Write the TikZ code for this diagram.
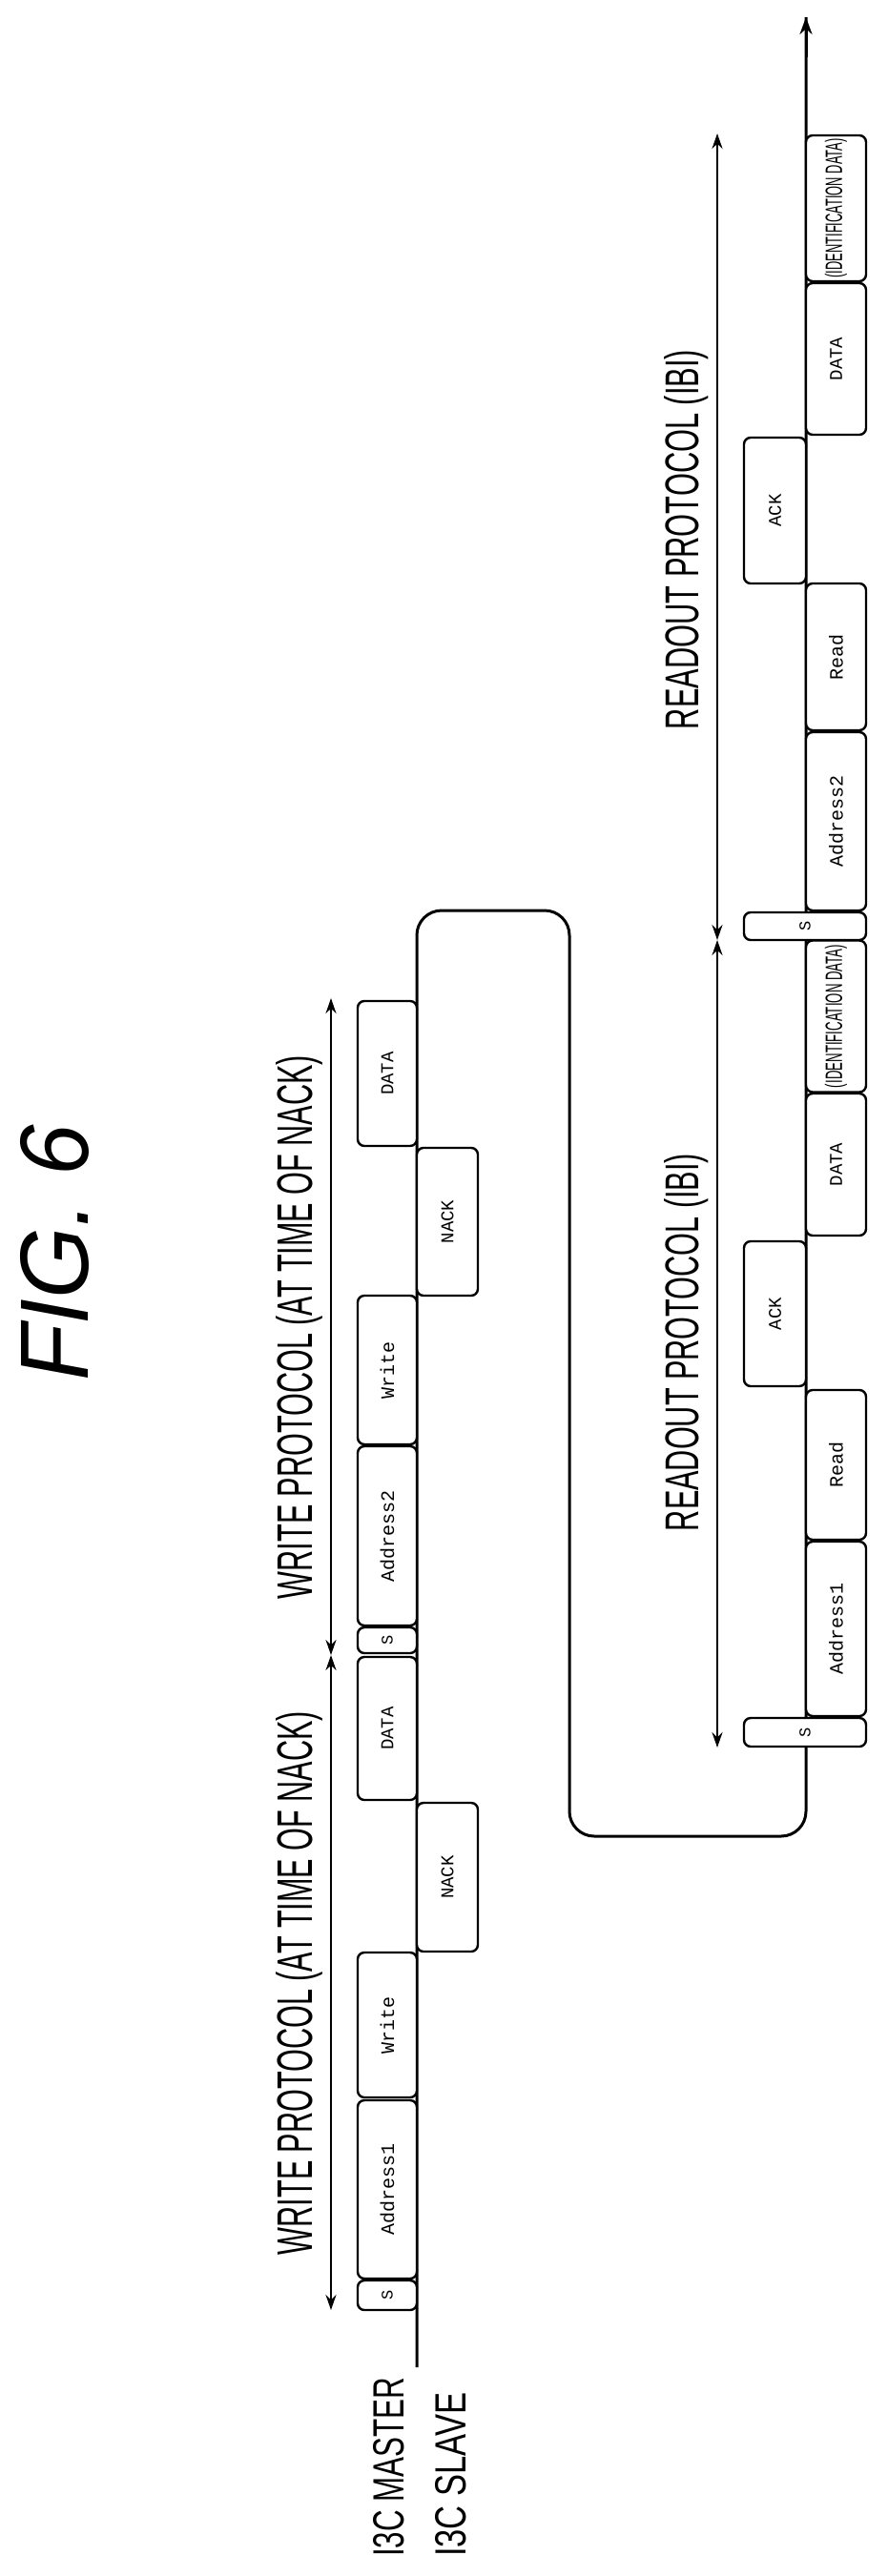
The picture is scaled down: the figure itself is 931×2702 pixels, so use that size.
\documentclass[tikz,border=0pt]{standalone}
\usepackage{fontspec}
\usepackage{graphicx}
\setmainfont{Liberation Sans}
\newfontfamily\boxfont{Liberation Mono}
\usetikzlibrary{arrows.meta}
\newcommand{\fitbox}[3]{\resizebox{#1pt}{#2pt}{#3}}
\begin{document}
\begin{tikzpicture}[x=1pt,y=-1pt,
  pk/.style={draw,line width=2.4pt,rounded corners=7pt,inner sep=0pt,fill=white},
  lbl/.style={inner sep=0pt},
  bus/.style={line width=3pt},
  dim/.style={line width=2.2pt,{Stealth[length=16pt,width=11pt]}-{Stealth[length=16pt,width=11pt]}},
  btxt/.style={font=\boxfont\fontsize{17}{17}\selectfont}]
\useasboundingbox (0,0) rectangle (931,2702);
% title
\node[lbl] (fig) at (57,1314) {\rotatebox{90}{\fitbox{268}{71}{\itshape FIG. 6}}};
% main bus with loop
\coordinate (b0) at (437,2483);
\coordinate (b1) at (437,955);
\coordinate (b2) at (597,955);
\coordinate (b3) at (597,1926);
\coordinate (b4) at (845,1926);
\coordinate (b5) at (845,18);
\draw[bus,rounded corners=26pt] (b0) -- (b1) -- (b2) -- (b3) -- (b4) -- (b5);
\draw[bus,-{Stealth[length=18pt,width=13pt]}] (845,60) -- (b5);
% write protocol 1
\node[pk,minimum width=62pt,minimum height=31pt] (ws1) at (406,2407.5) {\rotatebox{90}{\boxfont\fontsize{17}{17}\selectfont S}};
\node[pk,minimum width=62pt,minimum height=187pt] (wa1) at (406,2296.5) {\rotatebox{90}{\boxfont\fontsize{20}{20}\selectfont Address1}};
\node[pk,minimum width=62pt,minimum height=152pt] (ww1) at (406,2124) {\rotatebox{90}{\boxfont\fontsize{20}{20}\selectfont Write}};
\node[pk,minimum width=64pt,minimum height=156pt] (wn1) at (469,1969) {\rotatebox{90}{\boxfont\fontsize{19}{19}\selectfont NACK}};
\node[pk,minimum width=62pt,minimum height=150pt] (wd1) at (406,1813) {\rotatebox{90}{\boxfont\fontsize{19}{19}\selectfont DATA}};
% write protocol 2
\node[pk,minimum width=62pt,minimum height=27pt] (ws2) at (406,1720.5) {\rotatebox{90}{\boxfont\fontsize{17}{17}\selectfont S}};
\node[pk,minimum width=62pt,minimum height=188pt] (wa2) at (406,1611) {\rotatebox{90}{\boxfont\fontsize{20}{20}\selectfont Address2}};
\node[pk,minimum width=62pt,minimum height=156pt] (ww2) at (406,1437) {\rotatebox{90}{\boxfont\fontsize{20}{20}\selectfont Write}};
\node[pk,minimum width=64pt,minimum height=155pt] (wn2) at (469,1281.5) {\rotatebox{90}{\boxfont\fontsize{19}{19}\selectfont NACK}};
\node[pk,minimum width=62pt,minimum height=152pt] (wd2) at (406,1126) {\rotatebox{90}{\boxfont\fontsize{19}{19}\selectfont DATA}};
% readout 1
\node[pk,minimum width=128pt,minimum height=30pt] (rs1) at (844,1817) {\rotatebox{90}{\boxfont\fontsize{17}{17}\selectfont S}};
\node[pk,minimum width=63pt,minimum height=183pt] (ra1) at (876.5,1708.5) {\rotatebox{90}{\boxfont\fontsize{20}{20}\selectfont Address1}};
\node[pk,minimum width=63pt,minimum height=157pt] (rr1) at (876.5,1536.5) {\rotatebox{90}{\boxfont\fontsize{20}{20}\selectfont Read}};
\node[pk,minimum width=65pt,minimum height=152pt] (rk1) at (812.5,1378) {\rotatebox{90}{\boxfont\fontsize{19}{19}\selectfont ACK}};
\node[pk,minimum width=63pt,minimum height=149pt] (rd1) at (876.5,1221.5) {\rotatebox{90}{\boxfont\fontsize{19}{19}\selectfont DATA}};
\node[pk,minimum width=63pt,minimum height=159pt] (ri1) at (876.5,1066) {\rotatebox{90}{\fitbox{150}{18}{(IDENTIFICATION DATA)}}};
% readout 2
\node[pk,minimum width=128pt,minimum height=29pt] (rs2) at (844,971.5) {\rotatebox{90}{\boxfont\fontsize{17}{17}\selectfont S}};
\node[pk,minimum width=63pt,minimum height=187pt] (ra2) at (876.5,861.5) {\rotatebox{90}{\boxfont\fontsize{20}{20}\selectfont Address2}};
\node[pk,minimum width=63pt,minimum height=154pt] (rr2) at (876.5,689) {\rotatebox{90}{\boxfont\fontsize{20}{20}\selectfont Read}};
\node[pk,minimum width=65pt,minimum height=153pt] (rk2) at (812.5,535.5) {\rotatebox{90}{\boxfont\fontsize{19}{19}\selectfont ACK}};
\node[pk,minimum width=63pt,minimum height=159pt] (rd2) at (876.5,376.5) {\rotatebox{90}{\boxfont\fontsize{19}{19}\selectfont DATA}};
\node[pk,minimum width=63pt,minimum height=153pt] (ri2) at (876.5,218.5) {\rotatebox{90}{\fitbox{146}{18}{(IDENTIFICATION DATA)}}};
% dimension arrows
\coordinate (wl0) at (347,2423);
\coordinate (wl1) at (347,1736);
\coordinate (wl2) at (347,1047);
\coordinate (rl0) at (752,1833);
\coordinate (rl1) at (752,986);
\coordinate (rl2) at (752,140);
\draw[dim] (wl0) -- (wl1);
\draw[dim] (wl1) -- (wl2);
\draw[dim] (rl0) -- (rl1);
\draw[dim] (rl1) -- (rl2);
% labels
\node[lbl] (tw1) at (314,2080) {\rotatebox{90}{\fitbox{570}{38}{WRITE PROTOCOL (AT TIME OF NACK)}}};
\node[lbl] (tw2) at (314,1392) {\rotatebox{90}{\fitbox{570}{38}{WRITE PROTOCOL (AT TIME OF NACK)}}};
\node[lbl] (tr1) at (720,1408) {\rotatebox{90}{\fitbox{396}{36}{READOUT PROTOCOL (IBI)}}};
\node[lbl] (tr2) at (720,566) {\rotatebox{90}{\fitbox{398}{36}{READOUT PROTOCOL (IBI)}}};
\node[lbl,anchor=west,rotate=90] (m) at (408,2682) {\fitbox{188}{32}{I3C MASTER}};
\node[lbl,anchor=west,rotate=90] (s) at (473,2682) {\fitbox{172}{32}{I3C SLAVE}};
\end{tikzpicture}
\end{document}
